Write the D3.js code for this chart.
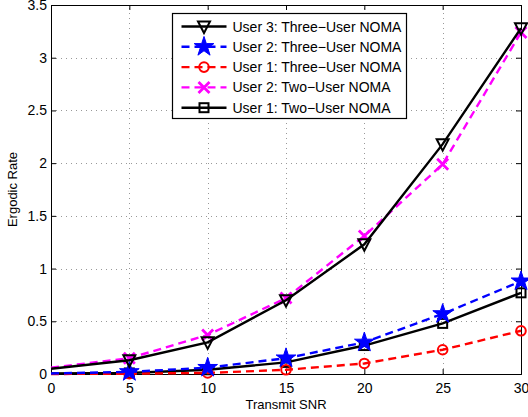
<!DOCTYPE html>
<html>
<head>
<meta charset="utf-8">
<script src="https://d3js.org/d3.v7.min.js"></script>
<style>
  body { margin: 0; background: #fff; }
  text { font-family: "Liberation Sans", Arial, sans-serif; fill: #000; }
</style>
</head>
<body>
<div id="chart"></div>
<script>
// data
var snr = [0, 5, 10, 15, 20, 25, 30];
var user3Three = [0.05, 0.13, 0.30, 0.70, 1.23, 2.18, 3.28];
var user2Three = [0.005, 0.02, 0.06, 0.15, 0.30, 0.57, 0.88];
var user1Three = [0.0, 0.003, 0.01, 0.04, 0.10, 0.23, 0.41];
var user2Two = [0.06, 0.15, 0.37, 0.72, 1.31, 1.99, 3.24];
var user1Two = [0.005, 0.01, 0.04, 0.11, 0.27, 0.48, 0.77];
var xTicks = [0, 5, 10, 15, 20, 25, 30];
var yTicks = [0, 0.5, 1, 1.5, 2, 2.5, 3, 3.5];

var series = [
  { name: "User 3: Three\u2212User NOMA", values: user3Three, color: "#000", dash: null, marker: "tri" },
  { name: "User 2: Three\u2212User NOMA", values: user2Three, color: "#0000ff", dash: "8,5", marker: "star" },
  { name: "User 1: Three\u2212User NOMA", values: user1Three, color: "#ff0000", dash: "8,5", marker: "circle" },
  { name: "User 2: Two\u2212User NOMA", values: user2Two, color: "#ff00ff", dash: "8,5", marker: "x" },
  { name: "User 1: Two\u2212User NOMA", values: user1Two, color: "#000", dash: null, marker: "square" }
];
// drawing order: back to front like the original
var drawOrder = [4, 3, 2, 1, 0];

var W = 528, H = 417;
var m = { left: 51, top: 5, right: 7, bottom: 43 };
var svg = d3.select("#chart").append("svg").attr("width", W).attr("height", H);

var x = d3.scaleLinear().domain([0, 30]).range([m.left, W - m.right]);
var y = d3.scaleLinear().domain([0, 3.5]).range([H - m.bottom, m.top]);

// grid
var grid = svg.append("g").attr("stroke", "#999").attr("stroke-width", 1).attr("stroke-dasharray", "1,4");
grid.selectAll(".gx").data(xTicks.slice(1, -1)).enter().append("line")
  .attr("x1", function (d) { return Math.round(x(d)) + 0.5; })
  .attr("x2", function (d) { return Math.round(x(d)) + 0.5; })
  .attr("y1", y(0)).attr("y2", y(3.5));
grid.selectAll(".gy").data(yTicks.slice(1, -1)).enter().append("line")
  .attr("y1", function (d) { return Math.round(y(d)) + 0.5; })
  .attr("y2", function (d) { return Math.round(y(d)) + 0.5; })
  .attr("x1", x(0)).attr("x2", x(30));

// axes (ticks inward, box)
var xb = svg.append("g").attr("transform", "translate(0," + y(0) + ")")
  .call(d3.axisBottom(x).tickValues(xTicks).tickSize(-5).tickPadding(9).tickFormat(d3.format("d")));
var xt = svg.append("g").attr("transform", "translate(0," + y(3.5) + ")")
  .call(d3.axisTop(x).tickValues(xTicks).tickSize(-5).tickFormat(""));
var yl = svg.append("g").attr("transform", "translate(" + x(0) + ",0)")
  .call(d3.axisLeft(y).tickValues(yTicks).tickSize(-5).tickPadding(4).tickFormat(function (d) { return d; }));
var yr = svg.append("g").attr("transform", "translate(" + x(30) + ",0)")
  .call(d3.axisRight(y).tickValues(yTicks).tickSize(-5).tickFormat(""));
[xb, xt, yl, yr].forEach(function (g) {
  g.selectAll("path").attr("stroke", "#000").attr("stroke-width", 1);
  g.selectAll("line").attr("stroke", "#000");
  g.selectAll("text").style("font-size", "14px").style("font-family", "Liberation Sans, Arial, sans-serif");
});

// markers
function drawMarker(g, type, cx, cy, color) {
  if (type === "tri") {
    g.append("path").attr("d", "M" + (cx - 6) + "," + (cy - 5) + "L" + (cx + 6) + "," + (cy - 5) + "L" + cx + "," + (cy + 6.5) + "Z")
      .attr("fill", "none").attr("stroke", color).attr("stroke-width", 2);
  } else if (type === "star") {
    g.append("path").attr("d", d3.symbol().type(d3.symbolStar).size(120)())
      .attr("transform", "translate(" + cx + "," + cy + ")").attr("fill", color).attr("stroke", color).attr("stroke-width", 1);
  } else if (type === "circle") {
    g.append("circle").attr("cx", cx).attr("cy", cy).attr("r", 4.8)
      .attr("fill", "none").attr("stroke", color).attr("stroke-width", 2);
  } else if (type === "x") {
    g.append("path").attr("d", "M" + (cx - 5.5) + "," + (cy - 5.5) + "L" + (cx + 5.5) + "," + (cy + 5.5) + "M" + (cx - 5.5) + "," + (cy + 5.5) + "L" + (cx + 5.5) + "," + (cy - 5.5))
      .attr("stroke", color).attr("stroke-width", 2.8);
  } else if (type === "square") {
    g.append("rect").attr("x", cx - 4.5).attr("y", cy - 4.5).attr("width", 9).attr("height", 9)
      .attr("fill", "none").attr("stroke", color).attr("stroke-width", 2);
  }
}

var line = d3.line().x(function (d, i) { return x(snr[i]); }).y(function (d) { return y(d); });
var plot = svg.append("g");
drawOrder.forEach(function (k) {
  var s = series[k];
  var g = plot.append("g");
  g.append("path").attr("d", line(s.values)).attr("fill", "none")
    .attr("stroke", s.color).attr("stroke-width", 2.4)
    .attr("stroke-dasharray", s.dash);
  s.values.forEach(function (v, i) {
    if (i === 0) return;
    drawMarker(g, s.marker, x(snr[i]), y(v), s.color);
  });
});

// axis labels
svg.append("text").attr("x", (x(0) + x(30)) / 2).attr("y", 409).attr("text-anchor", "middle")
  .style("font-size", "13px").text("Transmit SNR");
svg.append("text").attr("transform", "translate(17," + (y(1.75)) + ") rotate(-90)").attr("text-anchor", "middle")
  .style("font-size", "13px").text("Ergodic Rate");

// legend
var lg = svg.append("g").attr("transform", "translate(172.5,13.5)");
lg.append("rect").attr("width", 234).attr("height", 105).attr("fill", "#fff").attr("stroke", "#000").attr("stroke-width", 1.2);
series.forEach(function (s, i) {
  var yy = 13 + i * 20.3;
  var r = lg.append("g");
  r.append("line").attr("x1", 9).attr("x2", 54).attr("y1", yy).attr("y2", yy)
    .attr("stroke", s.color).attr("stroke-width", 2.4).attr("stroke-dasharray", s.dash);
  drawMarker(r, s.marker, 31.5, yy, s.color);
  r.append("text").attr("x", 60).attr("y", yy + 5).style("font-size", "14px").text(s.name);
});
</script>
</body>
</html>
